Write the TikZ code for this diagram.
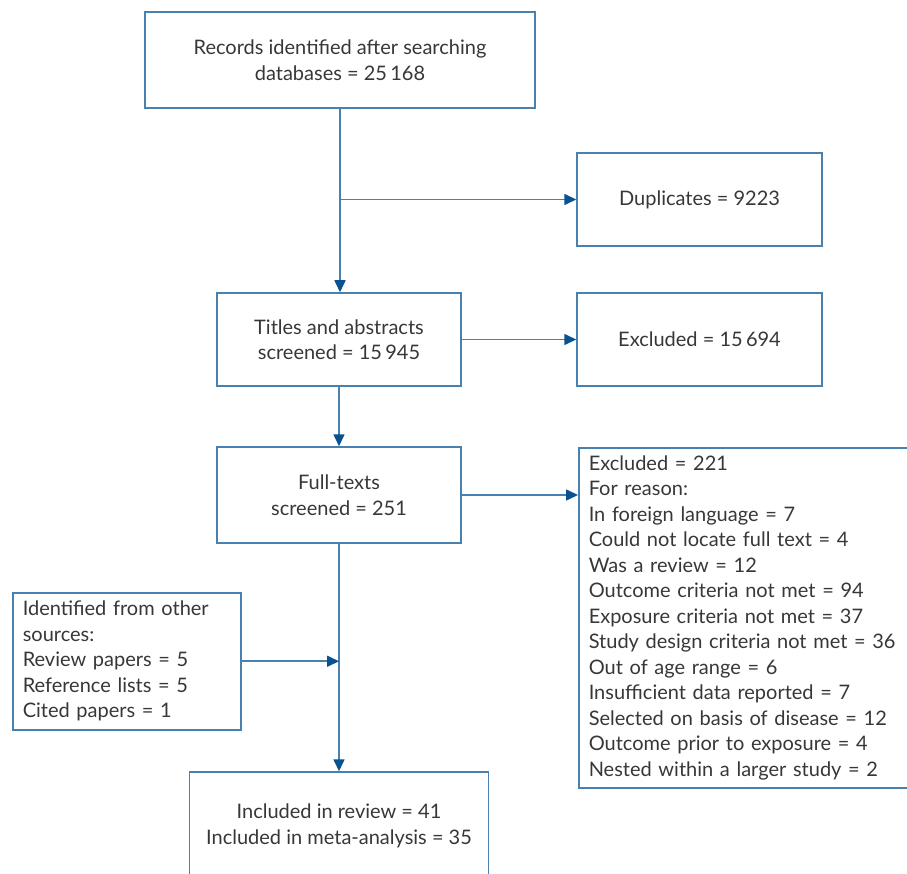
\documentclass[tikz,border=0pt]{standalone}
\usepackage{fontspec}
\setmainfont{Lato}
\usetikzlibrary{arrows.meta, positioning}
\definecolor{linecol}{RGB}{72,128,176}
\definecolor{tipcol}{RGB}{8,82,146}
\definecolor{textcol}{RGB}{55,55,55}

\begin{document}
\begin{tikzpicture}[x=1pt, y=-1pt,
		  % Define the style of the flow boxes
		  box/.style={rectangle, draw=linecol, line width=1.5pt, text=textcol,
		    font=\fontsize{20}{25.5}\selectfont, align=center, inner sep=0pt},
		  % Define the style of the boxes with left aligned lists
		  listbox/.style={box, align=left, anchor=north west, inner xsep=10pt},
		  % Define the style of the arrows between boxes
		  arrow/.style={draw=linecol, line width=1.6pt,
		    -{Triangle[length=12pt, width=11pt, color=tipcol]}},
		  % Define the style of the plain connecting lines
		  link/.style={draw=linecol, line width=1.6pt}
		  ]
		  \useasboundingbox (0,0) rectangle (907,874);

		  % Main column
		  \node[box, minimum width=390, minimum height=96] (records) at (340,60)
		    {Records identified after searching\\databases = 25\,168};
		  \node[box, minimum width=244, minimum height=93] (titles) at (339,339.5)
		    {Titles and abstracts\\screened = 15\,945};
		  \node[box, minimum width=244, minimum height=96] (fulltexts) at (339,495)
		    {Full-texts\\screened = 251};
		  \node[box, minimum width=299, minimum height=108] (included) at (339,826)
		    {Included in review = 41\\Included in meta-analysis = 35};

		  % Exclusion column
		  \node[box, minimum width=245, minimum height=93] (duplicates) at (699.5,199.5)
		    {Duplicates = 9223};
		  \node[box, minimum width=245, minimum height=93] (excluded1) at (699.5,339.5)
		    {Excluded = 15\,694};
		  \node[listbox, text width=340, minimum height=340] (excluded2) at (578,447)
		    {Excluded = 221\\For reason:\\In foreign language = 7\\Could not locate full text = 4\\
		     Was a review = 12\\Outcome criteria not met = 94\\Exposure criteria not met = 37\\
		     Study design criteria not met = 36\\Out of age range = 6\\Insufficient data reported = 7\\
		     Selected on basis of disease = 12\\Outcome prior to exposure = 4\\Nested within a larger study = 2};

		  % Other sources
		  \node[listbox, text width=208, minimum height=137] (other) at (12,592)
		    {Identified from other\\sources:\\Review papers = 5\\Reference lists = 5\\Cited papers = 1};

		  % Junctions on the main line
		  \coordinate (dupjoin) at (records.south |- duplicates.west);
		  \coordinate (otherjoin) at (fulltexts.south |- other.east);

		  % Connect the boxes
		  \draw[arrow] (records.south) -- (titles.north -| records.south);
		  \draw[arrow] (dupjoin) -- (duplicates.west);
		  \draw[arrow] (titles.east) -- (excluded1.west);
		  \draw[arrow] (titles.south) -- (fulltexts.north);
		  \draw[arrow] (fulltexts.east) -- (fulltexts.east -| excluded2.west);
		  \draw[arrow] (fulltexts.south) -- (included.north);
		  \draw[arrow] (other.east) -- (otherjoin);
    \end{tikzpicture}
\end{document}
